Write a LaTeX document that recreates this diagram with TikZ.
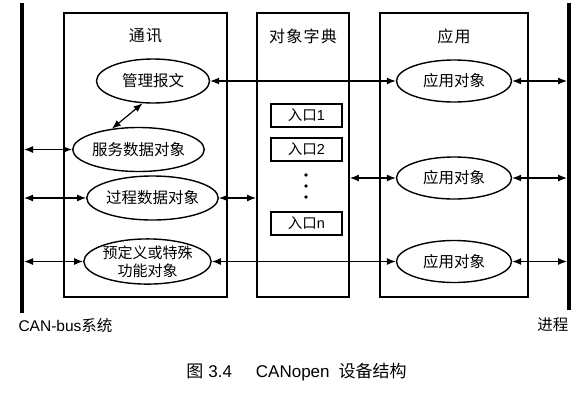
\documentclass[tikz,border=0pt]{standalone}
\usepackage{fontspec}
\setmainfont{Liberation Sans}
\newfontfamily\cjk{Noto Sans CJK SC}
\usetikzlibrary{shapes.geometric,arrows.meta}
\tikzset{
	panel/.style={draw,line width=1.8pt,minimum height=284pt,inner sep=0pt},
	title/.style={font=\cjk\fontsize{16}{18}\selectfont\addfontfeature{LetterSpace=8}},
	obj/.style={ellipse,draw,line width=1.4pt,minimum width=113pt,minimum height=44pt,inner sep=0pt,align=center,font=\cjk\fontsize{15.5}{18}\selectfont},
	entry/.style={draw,line width=1.2pt,minimum width=71pt,minimum height=23pt,inner sep=0pt,font=\fontsize{14.5}{16}\selectfont},
	link/.style={line width=1.2pt,{Latex[length=9pt,width=7pt]}-{Latex[length=9pt,width=7pt]}},
	bus/.style={line width=3.8pt}
}
\begin{document}
\begin{tikzpicture}[x=1pt,y=-1pt]
\useasboundingbox (0,0) rectangle (585,405);
\draw[bus] (22,3) -- (22,313);
\draw[bus] (569,3) -- (569,310);
\coordinate (busL) at (24,0);
\coordinate (busR) at (567,0);
\path
	(145.5,155) node[panel,minimum width=163pt] (comm) {}
	(303,155) node[panel,minimum width=92pt] (dict) {}
	(454,155) node[panel,minimum width=148pt] (appl) {}
	(145.5,36) node[title] (tcomm) {通讯}
	(303,36) node[title] (tdict) {对象字典}
	(454,36) node[title] (tappl) {应用};
\path
	(153,81) node[obj] (mgmt) {管理报文}
	(138.5,149.5) node[obj] (sdo) {服务数据对象}
	(152.5,198) node[obj] (pdo) {过程数据对象}
	(147.5,261.5) node[obj,minimum width=117pt,minimum height=42pt,font=\cjk\fontsize{15}{18}\selectfont] (spec) {预定义或特殊\\功能对象}
	(454,81) node[obj,minimum width=115pt,minimum height=42pt] (app1) {应用对象}
	(454,178) node[obj,minimum width=115pt,minimum height=42pt] (app2) {应用对象}
	(454,261.5) node[obj,minimum width=115pt,minimum height=42pt] (app3) {应用对象};
\path
	(306.5,115.5) node[entry] (e1) {{\cjk 入口}1}
	(306.5,149.5) node[entry] (e2) {{\cjk 入口}2}
	(306.5,223.5) node[entry] (en) {{\cjk 入口}n};
\foreach \y in {175,186,197} \fill (306,\y) circle (1.8);
\draw[link] (mgmt.-115) -- (sdo.142);
\draw[link] (mgmt.east) -- (app1.west);
\draw[link] (spec.east) -- (app3.west);
\draw[link] (sdo.west -| busL) -- (sdo.west);
\draw[link] (pdo.west -| busL) -- (pdo.west);
\draw[link] (spec.west -| busL) -- (spec.west);
\draw[link] (pdo.east) -- (pdo.east -| dict.west);
\draw[link] (app2.west -| dict.east) -- (app2.west);
\draw[link] (app1.east) -- (app1.east -| busR);
\draw[link] (app2.east) -- (app2.east -| busR);
\draw[link] (app3.east) -- (app3.east -| busR);
\path
	(15,326) node[anchor=west,font=\fontsize{15.5}{18}\selectfont] (lcan) {CAN-bus{\cjk 系统}}
	(572,325) node[anchor=east,font=\cjk\fontsize{15.5}{18}\selectfont] (lproc) {进程}
	(296.5,372) node[font=\fontsize{17}{19}\selectfont] (cap) {{\cjk 图}\hspace{5pt}3.4\hspace{24pt}CANopen\hspace{9pt}{\cjk 设备结构}};
\end{tikzpicture}
\end{document}
